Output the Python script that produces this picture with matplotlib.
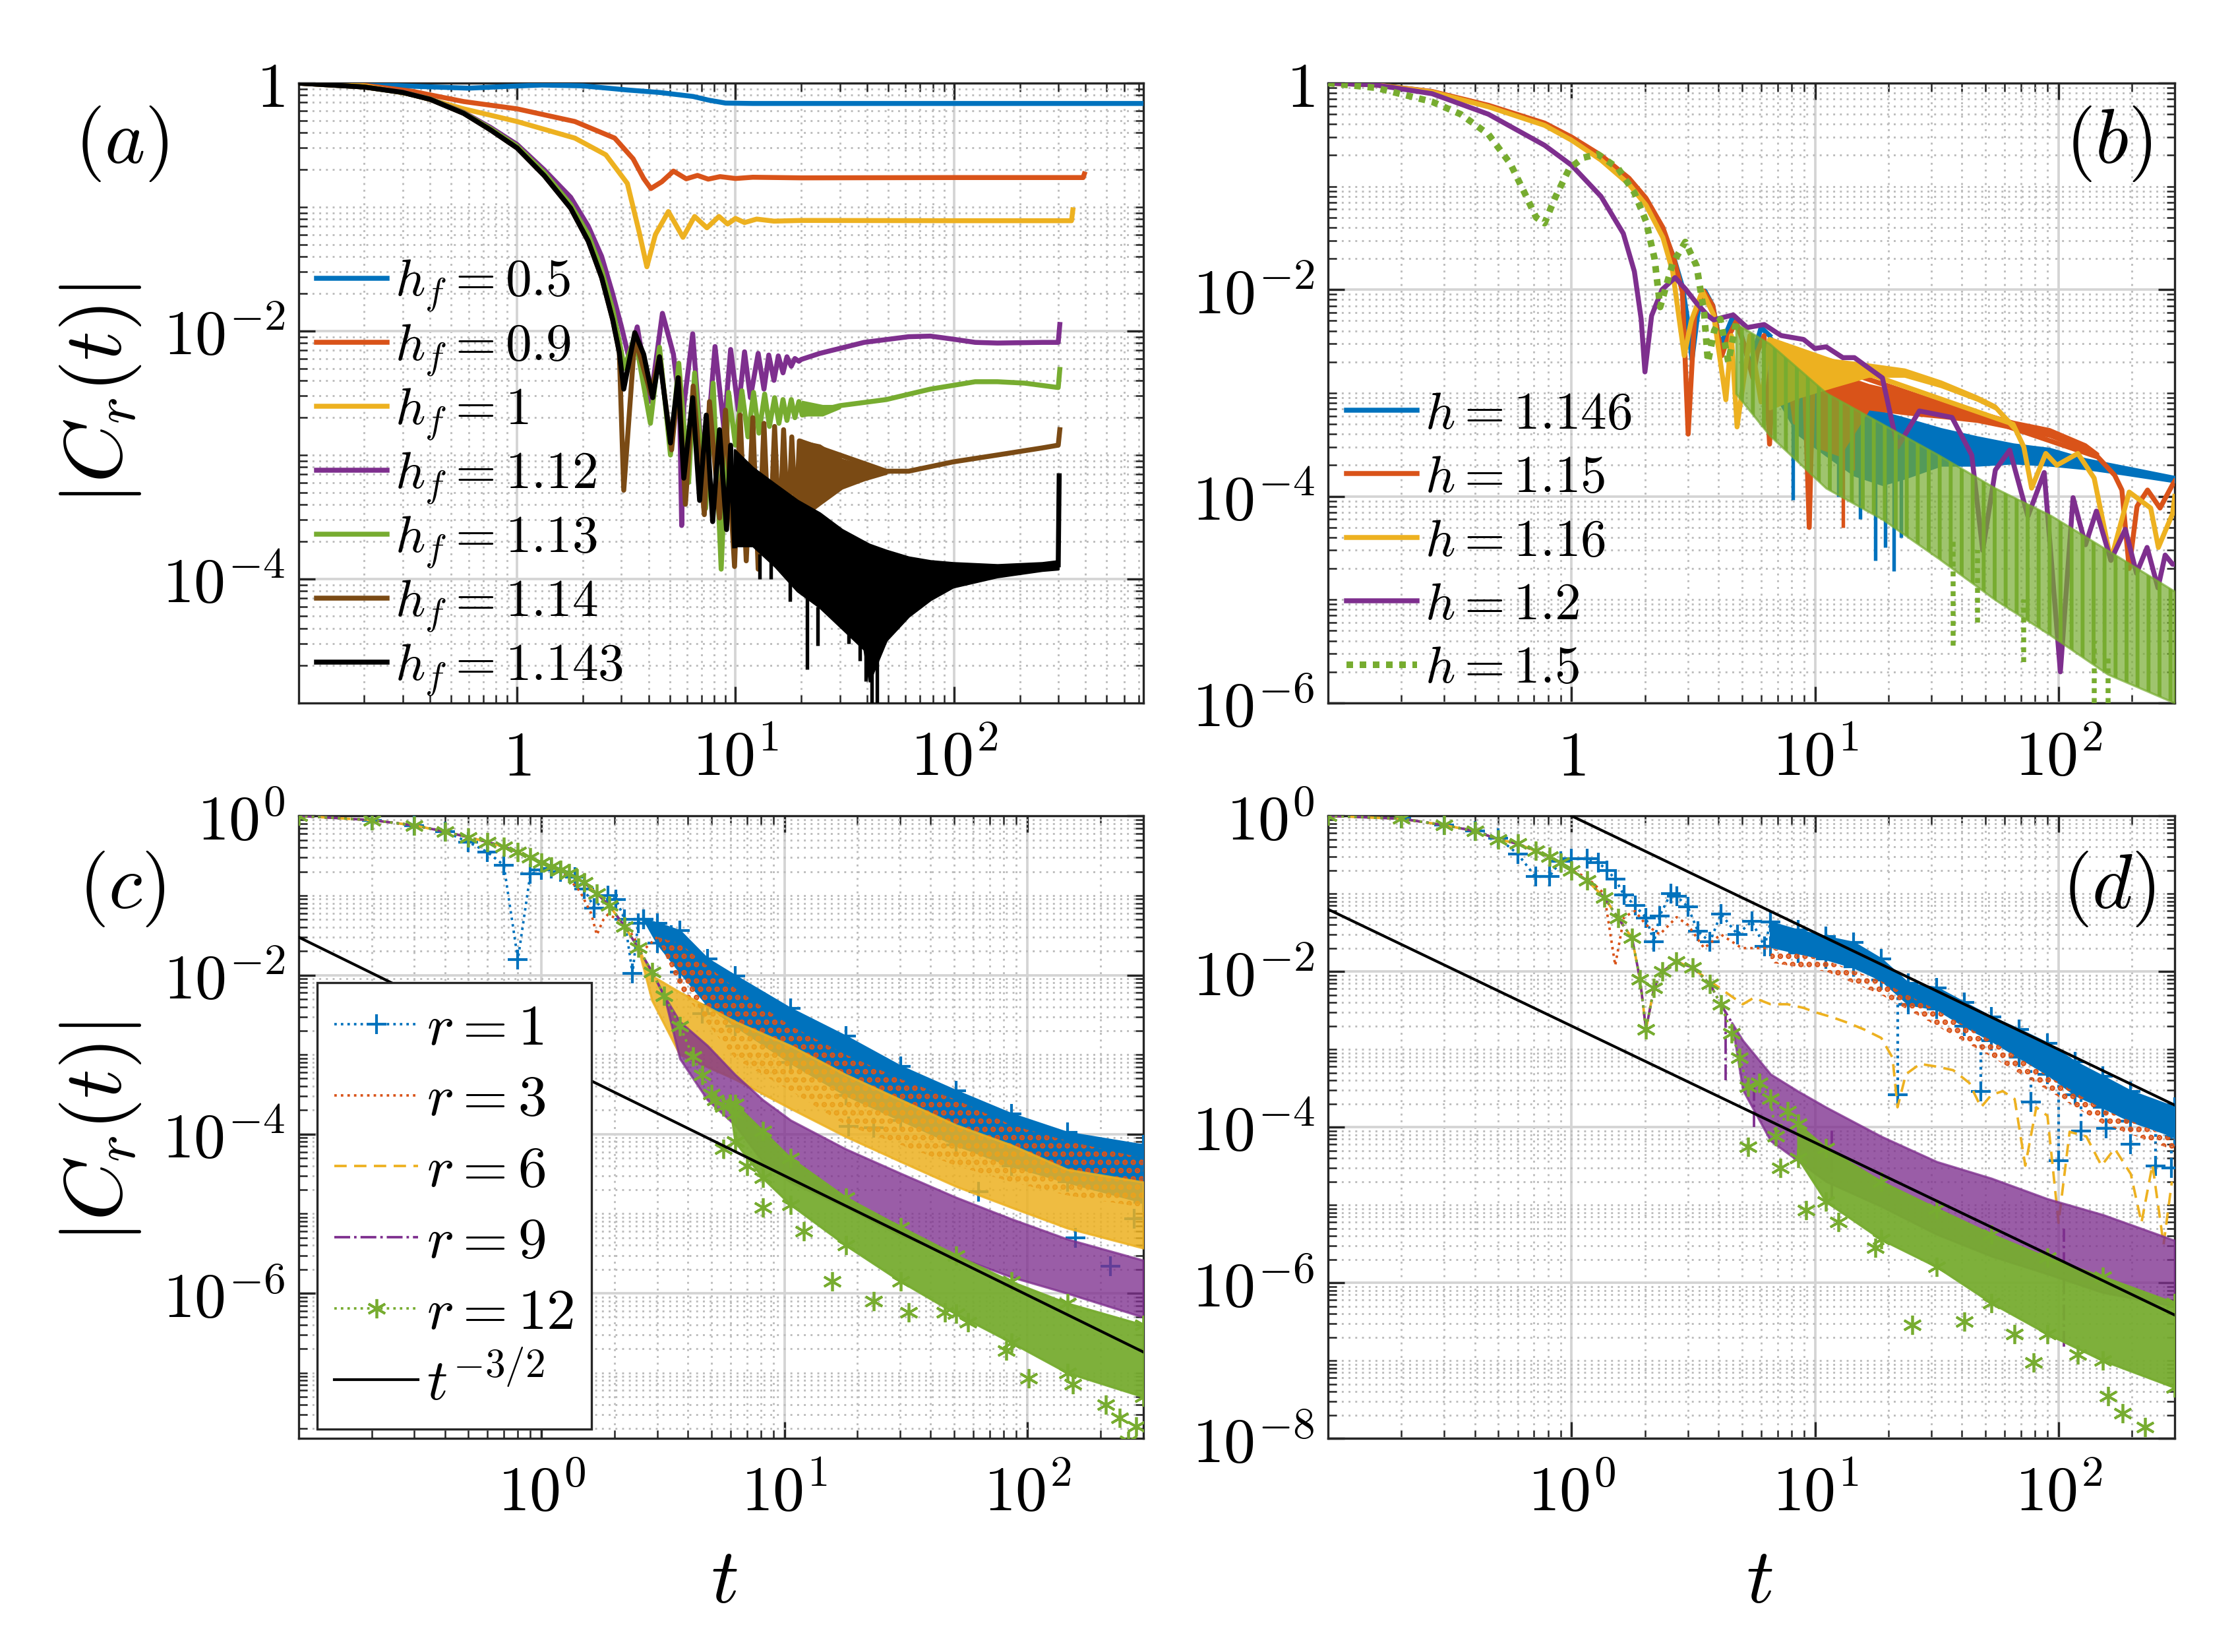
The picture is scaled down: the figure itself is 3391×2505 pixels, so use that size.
import matplotlib

matplotlib.use("Agg")
import matplotlib.pyplot as plt
from matplotlib.ticker import FixedLocator, FixedFormatter, LogLocator, NullFormatter

plt.rcParams["mathtext.fontset"] = "cm"
plt.rcParams["font.family"] = ["DejaVu Serif"]
plt.rcParams["hatch.linewidth"] = 1.4

BLUE = "#0072BD"
ORANGE = "#D95319"
YELLOW = "#EDB120"
PURPLE = "#7E2F8E"
GREEN = "#77AC30"
BROWN = "#7A4A14"
BLACK = "#000000"

# ---------------- panel (a): |C_r(t)| for several h_f ----------------
A_T_05 = [0.1, 0.2, 0.35, 0.6, 0.9, 1.3, 2.0, 3.2, 4.5, 6.4, 7.5, 9.0, 12, 50, 200, 735]
A_C_05 = [1.0, 0.98, 0.94, 0.91, 0.94, 0.965, 0.95, 0.88, 0.84, 0.78, 0.73, 0.69, 0.685, 0.685, 0.685, 0.685]

A_T_09 = [0.1, 0.2, 0.33, 0.57, 1.0, 1.84, 2.8, 3.4, 3.8, 4.1, 4.6, 5.2, 5.95, 6.7, 7.5, 8.5, 10, 12, 20, 100, 390, 395]
A_C_09 = [1.0, 0.96, 0.86, 0.71, 0.62, 0.49, 0.36, 0.245, 0.17, 0.141, 0.16, 0.195, 0.169, 0.18, 0.168, 0.176,
          0.17, 0.174, 0.172, 0.173, 0.173, 0.185]

A_T_1 = [0.1, 0.2, 0.33, 0.57, 1.0, 1.84, 2.55, 3.2, 3.63, 3.93, 4.3, 4.93, 5.75, 6.5, 7.4, 8.4, 9.2, 10, 11,
         12.5, 15, 20, 100, 345, 350]
A_C_1 = [1.0, 0.95, 0.81, 0.62, 0.49, 0.36, 0.264, 0.155, 0.062, 0.033, 0.06, 0.092, 0.057, 0.084, 0.068, 0.084,
         0.073, 0.081, 0.075, 0.08, 0.077, 0.078, 0.0776, 0.0776, 0.095]

A_T_112 = [0.1, 0.2, 0.3, 0.4, 0.57, 0.755, 1.0, 1.33, 1.76, 2.12, 2.44, 2.74, 3.0, 3.26, 3.55, 4.08, 4.63, 5.2,
           5.55, 5.67, 5.8, 6.37, 7.16, 8.06, 8.86, 9.5, 10.3, 11.0, 11.7, 12.7, 13.5, 14.2, 15.0, 15.7, 16.5,
           17.2, 18.0, 18.7, 19.5, 20, 24.3, 38.8, 62, 78, 99, 125, 158, 253, 300, 305]
A_C_112 = [1.0, 0.93, 0.845, 0.745, 0.58, 0.44, 0.32, 0.2, 0.12, 0.07, 0.04, 0.02, 0.011, 0.006, 0.0108, 0.0027,
           0.0139, 0.0065, 0.0025, 0.00027, 0.0025, 0.0095, 0.00058, 0.0075, 0.0016, 0.0071, 0.0023, 0.0068,
           0.0029, 0.0066, 0.0034, 0.0064, 0.004, 0.0063, 0.0046, 0.0062, 0.0052, 0.006, 0.0057, 0.0059, 0.0066,
           0.0081, 0.009, 0.0091, 0.0086, 0.0081, 0.008, 0.0081, 0.0081, 0.0113]

A_T_113 = [0.1, 0.2, 0.3, 0.4, 0.57, 0.755, 1.0, 1.33, 1.76, 2.12, 2.44, 2.74, 2.95, 3.1, 3.46, 4.08, 4.49, 5.04,
           5.5, 6.1, 6.5, 7.3, 7.9, 8.6, 9.3, 10.0, 10.7, 11.4, 12.1, 12.8, 13.6, 14.3, 15.1, 15.8, 16.5, 17.2,
           18.0, 18.7, 19.5, 20.2]
A_C_113 = [1.0, 0.93, 0.84, 0.745, 0.575, 0.43, 0.31, 0.19, 0.105, 0.06, 0.031, 0.015, 0.008, 0.005, 0.0091,
           0.0018, 0.0074, 0.001, 0.0055, 0.0006, 0.0046, 0.00037, 0.0038, 0.00012, 0.0032, 0.0012, 0.0033,
           0.0014, 0.0032, 0.0015, 0.0031, 0.0017, 0.0029, 0.0018, 0.0028, 0.0019, 0.0028, 0.002, 0.0027, 0.0021]
A_BT_113 = [20.2, 25, 30]
A_BHI_113 = [0.0027, 0.0025, 0.0025]
A_BLO_113 = [0.0021, 0.0021, 0.0024]
A_T2_113 = [30, 49, 78, 125, 158, 210, 300, 305]
A_C2_113 = [0.0025, 0.0028, 0.0034, 0.0039, 0.0039, 0.0038, 0.0035, 0.0049]

A_T_114 = [0.1, 0.2, 0.3, 0.4, 0.57, 0.755, 1.0, 1.33, 1.76, 2.12, 2.44, 2.74, 2.94, 3.08, 3.46, 4.1, 4.49, 5.1,
           5.5, 5.9, 6.4, 7.2, 7.6, 8.45, 9.0, 9.9, 10.5, 11.2, 12.0, 12.7, 13.5, 14.3, 15.1, 15.9, 16.6, 17.4,
           18.1, 18.9, 19.6]
A_C_114 = [1.0, 0.93, 0.84, 0.74, 0.57, 0.42, 0.3, 0.18, 0.098, 0.053, 0.027, 0.0124, 0.0067, 0.00052, 0.0088,
           0.0031, 0.0062, 0.0011, 0.0042, 0.0004, 0.0036, 0.00033, 0.0027, 0.00031, 0.0023, 0.000126, 0.0021,
           0.00014, 0.002, 0.00012, 0.0018, 0.00015, 0.0017, 0.0002, 0.0016, 0.00024, 0.0014, 0.00028, 0.0013]
A_BT_114 = [19.6, 24.3, 30.7, 38.8, 49]
A_BHI_114 = [0.0013, 0.0012, 0.00092, 0.00082, 0.00076]
A_BLO_114 = [0.0003, 0.0004, 0.00054, 0.00063, 0.00071]
A_T2_114 = [49, 62, 99, 158, 253, 300, 305]
A_C2_114 = [0.00074, 0.00074, 0.00088, 0.001, 0.00114, 0.0012, 0.0016]

A_T_1143 = [0.1, 0.2, 0.3, 0.4, 0.57, 0.755, 1.0, 1.33, 1.76, 2.12, 2.44, 2.74, 2.94, 3.08, 3.46, 3.8, 4.18, 4.49,
            5.04, 5.46, 5.8, 6.37, 6.85, 7.35, 7.86, 8.45, 9.1, 9.5, 9.9]
A_C_1143 = [1.0, 0.93, 0.84, 0.74, 0.57, 0.42, 0.3, 0.18, 0.098, 0.053, 0.027, 0.0124, 0.0067, 0.0034, 0.0097,
            0.0065, 0.0029, 0.0062, 0.00125, 0.0042, 0.00065, 0.0029, 0.00043, 0.0021, 0.00029, 0.0016, 0.00025,
            0.0012, 0.000185]
A_BT_1143 = [9.9, 12, 15.2, 19.2, 24.3, 30.7, 38.8, 41, 49, 62, 78, 99, 158, 253, 300]
A_BHI_1143 = [0.0011, 0.00079, 0.00058, 0.00043, 0.00034, 0.00025, 0.0002, 0.00019, 0.00017, 0.00015, 0.00014,
              0.000135, 0.00013, 0.000135, 0.00014]
A_BLO_1143 = [0.000185, 0.000185, 0.000126, 0.00008, 0.000059, 0.00004, 0.000027, 0.000015, 0.000032, 0.00005,
              0.000068, 0.000086, 0.000104, 0.000117, 0.00012]
A_ST_1143 = [12.9, 14.5, 17.7, 21.3, 23.7, 33, 37, 39.5, 42, 44.5, 58, 68]
A_STOP_1143 = [0.00016, 0.00015, 0.0001, 0.000075, 0.00006, 0.00004, 0.00003, 0.000027, 0.000025, 0.000025,
               0.00005, 0.000065]
A_SBOT_1143 = [0.0001, 0.0001, 0.000066, 0.0000186, 0.000029, 0.00003, 0.000022, 0.000015, 0.00001, 0.00001,
               0.000046, 0.000059]
A_T2_1143 = [300, 303]
A_C2_1143 = [0.00013, 0.00068]

# ---------------- panel (b) ----------------
B_T_1146 = [0.1, 0.157, 0.267, 0.455, 0.774, 1.0, 1.32, 1.72, 2.02, 2.37, 2.63, 2.85, 2.99, 3.12, 3.3, 3.53, 3.8,
            4.08, 4.35, 4.61, 5.0, 5.4, 6.0, 6.5]
B_C_1146 = [1.0, 0.96, 0.825, 0.6, 0.4, 0.29, 0.19, 0.113, 0.073, 0.038, 0.0203, 0.0107, 0.0052, 0.0021, 0.006,
            0.0097, 0.007, 0.0029, 0.004, 0.0056, 0.0035, 0.0018, 0.0043, 0.0036]
B_BT_1146 = [6.5, 8.5, 11.1, 14.5, 18.9, 23.3, 32.9, 46.3, 65.2, 91.8, 129, 182, 300]
B_BHI_1146 = [0.0036, 0.0018, 0.0011, 0.0008, 0.00065, 0.00057, 0.00045, 0.000375, 0.00032, 0.00029, 0.00023,
              0.000196, 0.000155]
B_BLO_1146 = [0.0012, 0.0004, 0.00025, 0.00016, 0.00013, 0.00015, 0.0002, 0.0002, 0.00021, 0.0002, 0.000185,
              0.000165, 0.000138]
B_ST_1146 = [8.1, 12.5, 15.3, 17.7, 19.4, 21.1, 22.6]
B_STOP_1146 = [0.0005, 0.00025, 0.00016, 0.00014, 0.00014, 0.00014, 0.00015]
B_SBOT_1146 = [0.000092, 0.0001, 0.00006, 0.000024, 0.000032, 0.000019, 0.00004]

B_T_115 = [0.1, 0.157, 0.267, 0.455, 0.774, 1.0, 1.32, 1.72, 2.02, 2.37, 2.63, 2.85, 3.01, 3.2, 3.49, 3.8, 4.14,
           4.4, 4.73, 5.1, 5.55, 5.8, 6.17, 6.5, 6.8, 7.25, 7.8, 8.28, 8.6, 8.97, 9.46, 9.8, 10.2]
B_C_115 = [1.0, 0.96, 0.83, 0.61, 0.41, 0.3, 0.2, 0.12, 0.077, 0.04, 0.02, 0.0095, 0.0004, 0.0055, 0.0097, 0.007,
           0.0023, 0.0035, 0.0049, 0.003, 0.0014, 0.0025, 0.0036, 0.00032, 0.0025, 0.003, 0.0015, 0.00052, 0.0016,
           0.0025, 0.00005, 0.0012, 0.002]
B_BT_115 = [10.2, 12.6, 16.6, 23.3, 32.9, 46.3, 65.2, 91.8, 129, 145]
B_BHI_115 = [0.002, 0.0015, 0.0012, 0.001, 0.0008, 0.00067, 0.00053, 0.00045, 0.00032, 0.00026]
B_BLO_115 = [0.0003, 0.00025, 0.0007, 0.00063, 0.00058, 0.00053, 0.00045, 0.00038, 0.00028, 0.00024]
B_ST_115 = [11.5, 13, 14.3]
B_STOP_115 = [0.0004, 0.0005, 0.0006]
B_SBOT_115 = [0.00019, 0.00005, 0.00018]
B_T2_115 = [145, 170, 182, 195, 210, 232, 261, 294, 300]
B_C2_115 = [0.00024, 0.00016, 0.000115, 0.00002, 0.00008, 0.000115, 0.000077, 0.00013, 0.00014]

B_T_116 = [0.1, 0.157, 0.267, 0.455, 0.774, 1.0, 1.32, 1.72, 2.02, 2.37, 2.6, 2.9, 3.1, 3.44, 3.83, 4.3, 4.53,
           4.78, 5.4, 6.0, 6.5]
B_C_116 = [1.0, 0.96, 0.82, 0.59, 0.39, 0.28, 0.18, 0.105, 0.066, 0.032, 0.015, 0.0023, 0.005, 0.0097, 0.0057,
           0.00086, 0.0036, 0.00047, 0.0036, 0.00082, 0.0033]
B_BT_116 = [6.5, 8.4, 11.8, 16.6, 23.3, 32.9, 46.3, 55, 65]
B_BHI_116 = [0.0033, 0.0026, 0.0021, 0.0019, 0.0017, 0.0013, 0.00093, 0.00076, 0.0005]
B_BLO_116 = [0.0007, 0.0009, 0.00115, 0.00145, 0.00145, 0.00115, 0.00085, 0.0007, 0.00045]
B_T2_116 = [65, 72, 77.5, 88.6, 98.4, 120, 140, 164, 195, 239, 257, 294, 300]
B_C2_116 = [0.0005, 0.0003, 0.00012, 0.00026, 0.0002, 0.00026, 0.00015, 0.000024, 0.00011, 0.000077, 0.000032,
            0.000068, 0.0001]

B_T_12 = [0.1, 0.157, 0.267, 0.455, 0.774, 1.0, 1.32, 1.63, 1.81, 1.93, 2.0, 2.13, 2.35, 2.66, 2.93, 3.26, 3.63,
          3.83, 4.2, 4.61, 5.26, 6.18, 7.25, 8.97, 9.97, 11.1, 13.0, 14.5, 18.9, 21.8, 26.8, 36.5, 44, 48.8, 55,
          63, 74.8, 87.3, 101.7, 114.7, 129, 143, 164, 188, 209, 231, 256, 274, 294, 300]
B_C_12 = [1.0, 0.96, 0.79, 0.5, 0.25, 0.16, 0.08, 0.035, 0.015, 0.0052, 0.0016, 0.0056, 0.01, 0.0131, 0.0102,
          0.0074, 0.0056, 0.0051, 0.0054, 0.0057, 0.0043, 0.0046, 0.0036, 0.0033, 0.0027, 0.0028, 0.0022, 0.0022,
          0.0014, 0.0003, 0.00067, 0.00058, 0.00025, 0.00003, 0.00018, 0.00028, 0.000064, 0.00017, 0.000002,
          0.000097, 0.000034, 0.000072, 0.000024, 0.000048, 0.000018, 0.000032, 0.000013, 0.000027, 0.000022,
          0.000022]

B_T_15 = [0.1, 0.157, 0.267, 0.35, 0.455, 0.56, 0.64, 0.715, 0.774, 0.86, 0.98, 1.12, 1.28, 1.55, 1.81, 2.02,
          2.19, 2.31, 2.6, 2.93, 3.26, 3.5, 3.63, 3.85, 4.08, 4.4, 4.73]
B_C_15 = [1.0, 0.9, 0.66, 0.5, 0.32, 0.166, 0.087, 0.05, 0.044, 0.08, 0.15, 0.19, 0.205, 0.15, 0.087, 0.046,
          0.02, 0.0068, 0.018, 0.029, 0.017, 0.006, 0.002, 0.004, 0.0052, 0.002, 0.0047]
B_BT_15 = [4.73, 6.5, 11.1, 18.9, 32.2, 54.8, 93, 159, 300]
B_BHI_15 = [0.0047, 0.003, 0.001, 0.0005, 0.00025, 0.00012, 0.000065, 0.00003, 0.000012]
B_BLO_15 = [0.00099, 0.00039, 0.00012, 0.00006, 0.000025, 0.00001, 0.0000045, 0.0000019, 0.000001]
B_ST_15 = [37, 46.6, 72, 140, 160]
B_STOP_15 = [0.00004, 0.00003, 0.00001, 0.000004, 0.000003]
B_SBOT_15 = [0.0000036, 0.000006, 0.0000025, 0.000001, 0.000001]

# ---------------- panel (c) ----------------
C_T_1 = [0.1, 0.2, 0.3, 0.4, 0.5, 0.6, 0.7, 0.8, 0.9, 1.0, 1.1, 1.2, 1.37, 1.5, 1.65, 1.88, 2.03, 2.2, 2.37,
         2.5, 2.64]
C_C_1 = [1.0, 0.887, 0.76, 0.635, 0.47, 0.35, 0.24, 0.0157, 0.186, 0.21, 0.22, 0.2, 0.17, 0.12, 0.07, 0.1, 0.089,
         0.05, 0.0104, 0.045, 0.05]
C_BT_1 = [2.64, 3.0, 3.71, 4.82, 6.27, 10.6, 17.9, 30.2, 51, 86, 146, 300]
C_BHI_1 = [0.05, 0.045, 0.036, 0.016, 0.0098, 0.0038, 0.0017, 0.00071, 0.00035, 0.00018, 0.000105, 0.000073]
C_BLO_1 = [0.05, 0.025, 0.011, 0.0042, 0.0023, 0.00079, 0.00031, 0.00015, 0.000073, 0.00004, 0.000025, 0.000014]
C_OT_1 = [3.43, 4.58, 5.95, 9.5, 18.4, 23.3, 63, 158, 220, 275]
C_OC_1 = [0.032, 0.0033, 0.0077, 0.0014, 0.000125, 0.00012, 0.000019, 0.000005, 0.0000022, 0.0000086]

C_T_3 = [0.1, 0.2, 0.3, 0.4, 0.5, 0.6, 0.7, 0.8, 0.9, 1.0, 1.2, 1.44, 1.6, 1.69, 1.8, 1.88, 2.2, 2.6, 3.0]
C_C_3 = [1.0, 0.887, 0.76, 0.635, 0.54, 0.47, 0.41, 0.35, 0.3, 0.26, 0.21, 0.113, 0.06, 0.032, 0.05, 0.058,
         0.045, 0.02, 0.03]
C_BT_3 = [3.0, 3.71, 6.27, 10.6, 17.9, 30.2, 51, 86, 146, 300]
C_BHI_3 = [0.03, 0.025, 0.0068, 0.0023, 0.001, 0.00049, 0.00027, 0.00013, 0.000082, 0.00005]
C_BLO_3 = [0.03, 0.0068, 0.00089, 0.00035, 0.00013, 0.000073, 0.00004, 0.000025, 0.000017, 0.000012]

C_T_12 = [0.1, 0.2, 0.3, 0.4, 0.5, 0.6, 0.7, 0.8, 0.9, 1.0, 1.1, 1.2, 1.3, 1.4, 1.5, 1.69, 1.9, 2.2, 2.5, 2.85,
          3.2, 3.71, 4.2, 4.58, 5.0, 5.2, 5.6, 5.95, 6.27]
C_C_12 = [1.0, 0.887, 0.76, 0.635, 0.54, 0.47, 0.41, 0.35, 0.3, 0.26, 0.23, 0.21, 0.19, 0.165, 0.145, 0.106, 0.075,
          0.041, 0.022, 0.011, 0.0055, 0.0023, 0.00095, 0.00056, 0.00032, 0.00027, 0.00022, 0.00024, 0.00018]
C_BT_12 = [5.95, 6.27, 8.15, 10.6, 17.9, 30.2, 51, 86, 146, 300]
C_BHI_12 = [0.00024, 0.00024, 0.00011, 0.00005, 0.000016, 0.0000068, 0.000003, 0.0000014, 0.00000075, 0.0000004]
C_BLO_12 = [0.00024, 0.00008, 0.000028, 0.000013, 0.000004, 0.0000014, 0.00000055, 0.00000024, 0.0000001,
            0.00000005]
C_OT_12 = [5.6, 7.0, 8.15, 12, 15.7, 23.3, 32.5, 45.8, 56.8, 82, 101, 154, 210, 240, 260, 280]
C_OC_12 = [0.000065, 0.00004, 0.000012, 0.000006, 0.0000014, 0.0000008, 0.00000058, 0.00000058, 0.00000043,
           0.00000019, 0.000000085, 0.000000072, 0.00000004, 0.000000027, 0.000000014, 0.000000021]

C_T_6 = C_T_12[:19]
C_C_6 = C_C_12[:19]
C_BT_6 = [2.5, 2.85, 3.71, 6.27, 10.6, 17.9, 30.2, 51, 86, 146, 300]
C_BHI_6 = [0.022, 0.0098, 0.0061, 0.0026, 0.0013, 0.00056, 0.00027, 0.00013, 0.000073, 0.000036, 0.000025]
C_BLO_6 = [0.022, 0.0048, 0.001, 0.00049, 0.00021, 0.000093, 0.000045, 0.000022, 0.000012, 0.0000066, 0.0000037]

C_T_9 = C_T_12[:21]
C_C_9 = C_C_12[:21]
C_BT_9 = [3.2, 3.71, 4.82, 6.27, 8.15, 10.6, 17.9, 30.2, 51, 86, 146, 300]
C_BHI_9 = [0.0055, 0.0026, 0.0013, 0.00056, 0.00027, 0.00015, 0.000065, 0.000032, 0.000016, 0.0000086, 0.0000048,
           0.0000026]
C_BLO_9 = [0.0055, 0.00089, 0.00027, 0.00013, 0.000045, 0.000025, 0.000012, 0.0000053, 0.0000029, 0.0000016,
           0.000001, 0.0000005]

C_T_REF = [0.1, 300]
C_C_REF = [0.030, 1.83e-7]

# ---------------- panel (d) ----------------
D_T_12 = [0.1, 0.2, 0.3, 0.4, 0.5, 0.6, 0.71, 0.81, 0.9, 1.0, 1.16, 1.36, 1.55, 1.77, 1.91, 2.02, 2.18, 2.36,
          2.69, 3.15, 3.7, 4.1, 4.55, 4.9, 5.3, 5.9, 6.56, 6.9, 7.7, 8.5]
D_C_12 = [1.0, 0.92, 0.76, 0.64, 0.5, 0.44, 0.355, 0.3, 0.25, 0.2, 0.147, 0.09, 0.049, 0.027, 0.0079, 0.0018,
          0.0062, 0.01, 0.0135, 0.0112, 0.0069, 0.0038, 0.0016, 0.00078, 0.00033, 0.00037, 0.00023, 0.000076,
          0.00016, 0.00011]
D_BT_12 = [8.5, 11.1, 18.7, 31.6, 53, 90, 152, 300]
D_BHI_12 = [0.00011, 0.000054, 0.00002, 0.000009, 0.0000042, 0.0000021, 0.0000012, 0.00000055]
D_BLO_12 = [0.00004, 0.000011, 0.0000036, 0.0000016, 0.00000055, 0.00000022, 0.0000001, 0.000000045]
D_OT_12 = [5.3, 7.2, 9.2, 12.5, 17.7, 25, 41, 66, 79, 120, 160, 183, 226]
D_OC_12 = [0.000056, 0.00003, 0.0000085, 0.000006, 0.0000028, 0.00000029, 0.00000032, 0.00000022, 0.000000095,
           0.00000012, 0.000000035, 0.000000021, 0.000000014]

D_T_1 = [0.1, 0.2, 0.3, 0.4, 0.5, 0.6, 0.71, 0.81, 0.9, 1.0, 1.16, 1.29, 1.4, 1.51, 1.64, 1.82, 2.02, 2.18, 2.3,
         2.55, 2.7, 3.0, 3.3, 3.7, 4.1, 4.8, 5.5, 6.2, 6.56]
D_C_1 = [1.0, 0.92, 0.76, 0.64, 0.52, 0.325, 0.166, 0.166, 0.26, 0.28, 0.28, 0.25, 0.2, 0.155, 0.096, 0.071, 0.049,
         0.024, 0.052, 0.1, 0.093, 0.068, 0.033, 0.024, 0.055, 0.03, 0.044, 0.021, 0.043]
D_BT_1 = [6.56, 8.5, 11.1, 14.4, 18.7, 24.2, 31.6, 41, 53, 69, 90, 117, 152, 198, 300]
D_BHI_1 = [0.043, 0.034, 0.028, 0.0236, 0.0145, 0.007, 0.0062, 0.004, 0.0026, 0.0018, 0.0012, 0.00069, 0.00045,
           0.00029, 0.00018]
D_BLO_1 = [0.021, 0.0174, 0.0145, 0.0114, 0.0078, 0.0038, 0.0033, 0.002, 0.0013, 0.00079, 0.00048, 0.00026,
           0.00018, 0.00012, 0.000076]
D_ST_1 = [21.8, 48, 77, 100, 124, 157, 198, 250, 290]
D_STOP_1 = [0.006, 0.0018, 0.0009, 0.0006, 0.0004, 0.00025, 0.00016, 0.00012, 0.0001]
D_SBOT_1 = [0.00026, 0.00029, 0.00021, 0.000037, 0.00009, 0.000097, 0.00006, 0.000032, 0.00003]

D_T_3 = [0.1, 0.2, 0.3, 0.4, 0.5, 0.6, 0.71, 0.81, 0.9, 1.0, 1.16, 1.36, 1.51, 1.64, 1.82, 2.02, 2.3, 2.7, 3.0,
         3.5, 4.1, 5.0, 6.56]
D_C_3 = [1.0, 0.92, 0.76, 0.64, 0.5, 0.44, 0.355, 0.3, 0.25, 0.2, 0.16, 0.1, 0.012, 0.05, 0.06, 0.04, 0.03, 0.05,
         0.04, 0.02, 0.03, 0.02, 0.02]
D_BT_3 = [6.56, 11.1, 18.7, 31.6, 53, 90, 152, 300]
D_BHI_3 = [0.02, 0.014, 0.0075, 0.0032, 0.0013, 0.00046, 0.00017, 0.00007]
D_BLO_3 = [0.013, 0.01, 0.005, 0.002, 0.0008, 0.0003, 0.00011, 0.00005]

D_T_6 = D_T_12[:19] + [3.15, 3.7, 4.3, 5.05, 5.6, 6.56, 7.7, 9.0, 10.0, 11.7, 13.6, 15.9, 18.7, 20.8, 21.8, 23.6,
                       27, 31.6, 36.9, 43, 48, 53, 59, 66, 73, 81, 90, 100, 111, 130, 150, 170, 198, 219, 243,
                       270, 292]
D_C_6 = D_C_12[:19] + [0.011, 0.0075, 0.0054, 0.0038, 0.0046, 0.0038, 0.0038, 0.0034, 0.003, 0.0026, 0.0022,
                       0.0018, 0.0014, 0.00078, 0.00018, 0.00048, 0.00065, 0.0006, 0.00054, 0.00037, 0.00018,
                       0.00026, 0.00029, 0.00023, 0.000032, 0.00018, 0.00014, 0.0000059, 0.000087, 0.000076,
                       0.000032, 0.000053, 0.000025, 0.0000059, 0.000033, 0.0000031, 0.00002]

D_T_9 = D_T_12[:23]
D_C_9 = D_C_12[:22] + [0.0022]
D_BT_9 = [4.55, 5.05, 6.56, 8.5, 11.1, 18.7, 31.6, 53, 90, 152, 300]
D_BHI_9 = [0.0022, 0.0013, 0.00048, 0.00029, 0.00018, 0.000076, 0.000036, 0.000022, 0.000012, 0.0000075,
           0.0000035]
D_BLO_9 = [0.0022, 0.0003, 0.000067, 0.000037, 0.00002, 0.0000096, 0.0000042, 0.0000022, 0.0000013, 0.00000075,
           0.0000005]
D_ST_9 = [4.3, 5.6, 11.7, 105]
D_STOP_9 = [0.003, 0.0005, 0.0001, 0.000005]
D_SBOT_9 = [0.0004, 0.0001, 0.000012, 0.00000015]

D_T_REF1 = [1, 300]
D_C_REF1 = [1.0, 1.92e-4]
D_T_REF2 = [0.1, 300]
D_C_REF2 = [0.063, 3.85e-7]


def style_axes(ax, ylim, yticks, ylabels, xlim, xticks, xlabels):
    ax.set_xscale("log")
    ax.set_yscale("log")
    ax.set_xlim(*xlim)
    ax.set_ylim(*ylim)
    ax.xaxis.set_major_locator(FixedLocator(xticks))
    ax.xaxis.set_major_formatter(FixedFormatter(xlabels))
    ax.yaxis.set_major_locator(FixedLocator(yticks))
    ax.yaxis.set_major_formatter(FixedFormatter(ylabels))
    ax.xaxis.set_minor_locator(LogLocator(base=10, subs=range(1, 10), numticks=30))
    ax.yaxis.set_minor_locator(LogLocator(base=10, subs=range(1, 10), numticks=30))
    ax.xaxis.set_minor_formatter(NullFormatter())
    ax.yaxis.set_minor_formatter(NullFormatter())
    ax.set_axisbelow(True)
    ax.grid(True, which="major", color="#d4d4d4", lw=0.9, ls="-")
    ax.grid(True, which="minor", color="#bdbdbd", lw=0.7, ls=(0, (1, 2.5)))
    ax.tick_params(which="both", direction="in", top=True, right=True, labelsize=23, color="#262626")
    ax.tick_params(which="major", length=6, width=0.8)
    ax.tick_params(which="minor", length=3, width=0.6)
    ax.tick_params(axis="x", pad=9)
    ax.tick_params(axis="y", pad=5)
    for sp in ax.spines.values():
        sp.set_linewidth(0.8)
        sp.set_color("#262626")


def band(ax, t, lo, hi, color, z, alpha=1.0):
    ax.fill_between(t, lo, hi, color=color, alpha=alpha, lw=0.8, zorder=z)


def dotted_band(ax, t, lo, hi, color, z, hatch="...."):
    ax.fill_between(t, lo, hi, facecolor="none", edgecolor=color, hatch=hatch, lw=0, zorder=z)


def spikes(ax, t, top, bot, color, z, lw=1.3, ls="-"):
    ax.vlines(t, bot, top, colors=color, lw=lw, linestyles=ls, zorder=z)


fig = plt.figure(figsize=(3391 / 300, 2505 / 300), dpi=300)
ax_a = fig.add_axes([0.1335, 0.5745, 0.3778, 0.3752])
ax_b = fig.add_axes([0.594, 0.5745, 0.3786, 0.3752])
ax_c = fig.add_axes([0.1335, 0.1293, 0.3778, 0.3768])
ax_d = fig.add_axes([0.594, 0.1293, 0.3786, 0.3768])

LW = 1.8

# ---- (a)
ax = ax_a
ax.plot(A_T_05, A_C_05, color=BLUE, lw=LW, zorder=3, label=r"$h_f=0.5$")
ax.plot(A_T_09, A_C_09, color=ORANGE, lw=LW, zorder=4, label=r"$h_f=0.9$")
ax.plot(A_T_1, A_C_1, color=YELLOW, lw=LW, zorder=5, label=r"$h_f=1$")
ax.plot(A_T_112, A_C_112, color=PURPLE, lw=LW, zorder=6, label=r"$h_f=1.12$")
ax.plot(A_T_113 + A_T2_113, A_C_113 + A_C2_113, color=GREEN, lw=LW, zorder=7, label=r"$h_f=1.13$")
band(ax, A_BT_113, A_BLO_113, A_BHI_113, GREEN, 7)
ax.plot(A_T_114 + A_T2_114, A_C_114 + A_C2_114, color=BROWN, lw=LW, zorder=8, label=r"$h_f=1.14$")
band(ax, A_BT_114, A_BLO_114, A_BHI_114, BROWN, 8)
ax.plot(A_T_1143, A_C_1143, color=BLACK, lw=LW, zorder=9, label=r"$h_f=1.143$")
band(ax, A_BT_1143, A_BLO_1143, A_BHI_1143, BLACK, 9)
spikes(ax, A_ST_1143, A_STOP_1143, A_SBOT_1143, BLACK, 9)
ax.plot(A_T2_1143, A_C2_1143, color=BLACK, lw=LW, zorder=9)
style_axes(ax, (1e-5, 1), [1e-4, 1e-2, 1], [r"$10^{-4}$", r"$10^{-2}$", r"$1$"],
           (0.1, 735), [1, 10, 100], [r"$1$", r"$10^{1}$", r"$10^{2}$"])
ax.legend(loc="lower left", bbox_to_anchor=(0.0, -0.022), frameon=False, fontsize=19,
          handlelength=1.35, handletextpad=0.15, labelspacing=0.13, borderaxespad=0.15, borderpad=0.2)

# ---- (b)
ax = ax_b
ax.plot(B_T_1146, B_C_1146, color=BLUE, lw=LW, zorder=3, label=r"$h=1.146$")
band(ax, B_BT_1146, B_BLO_1146, B_BHI_1146, BLUE, 3)
spikes(ax, B_ST_1146, B_STOP_1146, B_SBOT_1146, BLUE, 3)
ax.plot(B_T_115 + B_T2_115, B_C_115 + B_C2_115, color=ORANGE, lw=LW, zorder=4, label=r"$h=1.15$")
band(ax, B_BT_115, B_BLO_115, B_BHI_115, ORANGE, 4)
spikes(ax, B_ST_115, B_STOP_115, B_SBOT_115, ORANGE, 4)
ax.plot(B_T_116 + B_T2_116, B_C_116 + B_C2_116, color=YELLOW, lw=LW, zorder=5, label=r"$h=1.16$")
band(ax, B_BT_116, B_BLO_116, B_BHI_116, YELLOW, 5)
ax.plot(B_T_12, B_C_12, color=PURPLE, lw=LW, zorder=6, label=r"$h=1.2$")
ax.plot(B_T_15, B_C_15, color=GREEN, lw=2.4, ls=(0, (1, 1)), zorder=7, label=r"$h=1.5$")
band(ax, B_BT_15, B_BLO_15, B_BHI_15, GREEN, 7, alpha=0.7)
dotted_band(ax, B_BT_15, B_BLO_15, B_BHI_15, GREEN, 7, hatch="|||")
spikes(ax, B_ST_15, B_STOP_15, B_SBOT_15, GREEN, 7, lw=1.8, ls=(0, (1, 1)))
style_axes(ax, (1e-6, 1), [1e-6, 1e-4, 1e-2, 1],
           [r"$10^{-6}$", r"$10^{-4}$", r"$10^{-2}$", r"$1$"],
           (0.1, 300), [1, 10, 100], [r"$1$", r"$10^{1}$", r"$10^{2}$"])
ax.legend(loc="lower left", bbox_to_anchor=(0.0, -0.014), frameon=False, fontsize=19,
          handlelength=1.35, handletextpad=0.15, labelspacing=0.26, borderaxespad=0.15, borderpad=0.2)

# ---- (c)
MS = 7
ax = ax_c
ax.plot(C_T_1, C_C_1, color=BLUE, lw=0.9, ls=":", marker="+", ms=MS, mew=1.0, zorder=3, label=r"$r=1$")
band(ax, C_BT_1, C_BLO_1, C_BHI_1, BLUE, 3)
ax.plot(C_BT_1, C_BHI_1, ls="none", marker="+", ms=MS, mew=1.0, color=BLUE, zorder=3)
ax.plot(C_BT_1, C_BLO_1, ls="none", marker="+", ms=MS, mew=1.0, color=BLUE, zorder=3)
ax.plot(C_OT_1, C_OC_1, ls="none", marker="+", ms=MS, mew=1.0, color=BLUE, zorder=3)
ax.plot(C_T_3, C_C_3, color=ORANGE, lw=0.9, ls=":", zorder=4, label=r"$r=3$")
dotted_band(ax, C_BT_3, C_BLO_3, C_BHI_3, ORANGE, 4)
ax.plot(C_T_6, C_C_6, color=YELLOW, lw=0.9, ls=(0, (5, 3)), zorder=5, label=r"$r=6$")
band(ax, C_BT_6, C_BLO_6, C_BHI_6, YELLOW, 5, alpha=0.85)
ax.plot(C_T_9, C_C_9, color=PURPLE, lw=0.9, ls="-.", zorder=6, label=r"$r=9$")
band(ax, C_BT_9, C_BLO_9, C_BHI_9, PURPLE, 6, alpha=0.78)
ax.plot(C_T_12, C_C_12, color=GREEN, lw=0.9, ls=":", marker=(6, 2, 0), ms=MS, mew=0.9, zorder=7,
        label=r"$r=12$")
band(ax, C_BT_12, C_BLO_12, C_BHI_12, GREEN, 7, alpha=0.95)
ax.plot(C_BT_12, C_BLO_12, ls="none", marker=(6, 2, 0), ms=MS, mew=0.9, color=GREEN, zorder=7)
ax.plot(C_BT_12, C_BHI_12, ls="none", marker=(6, 2, 0), ms=MS, mew=0.9, color=GREEN, zorder=7)
ax.plot(C_OT_12, C_OC_12, ls="none", marker=(6, 2, 0), ms=MS, mew=0.9, color=GREEN, zorder=7)
ax.plot(C_T_REF, C_C_REF, color=BLACK, lw=1.0, zorder=10, label=r"$t^{-3/2}$")
style_axes(ax, (1.5e-8, 1), [1e-6, 1e-4, 1e-2, 1],
           [r"$10^{-6}$", r"$10^{-4}$", r"$10^{-2}$", r"$10^{0}$"],
           (0.1, 300), [1, 10, 100], [r"$10^{0}$", r"$10^{1}$", r"$10^{2}$"])
leg = ax.legend(loc="lower left", bbox_to_anchor=(0.022, 0.015), frameon=True, fancybox=False,
                fontsize=21, handlelength=1.45, handletextpad=0.15, labelspacing=0.26,
                borderaxespad=0.0, borderpad=0.3)
leg.get_frame().set_edgecolor("#262626")
leg.get_frame().set_linewidth(0.8)
leg.get_frame().set_alpha(1.0)
leg.set_zorder(20)

# ---- (d)
ax = ax_d
ax.plot(D_T_1, D_C_1, color=BLUE, lw=0.9, ls=":", marker="+", ms=MS, mew=1.0, zorder=3)
band(ax, D_BT_1, D_BLO_1, D_BHI_1, BLUE, 3)
ax.plot(D_BT_1, D_BHI_1, ls="none", marker="+", ms=MS, mew=1.0, color=BLUE, zorder=3)
ax.plot(D_BT_1, D_BLO_1, ls="none", marker="+", ms=MS, mew=1.0, color=BLUE, zorder=3)
spikes(ax, D_ST_1, D_STOP_1, D_SBOT_1, BLUE, 3, lw=1.0, ls=":")
ax.plot(D_ST_1, D_SBOT_1, ls="none", marker="+", ms=MS, mew=1.0, color=BLUE, zorder=3)
ax.plot(D_T_3, D_C_3, color=ORANGE, lw=0.9, ls=":", zorder=4)
dotted_band(ax, D_BT_3, D_BLO_3, D_BHI_3, ORANGE, 4)
ax.plot(D_T_6, D_C_6, color=YELLOW, lw=0.9, ls=(0, (5, 3)), zorder=5)
ax.plot(D_T_9, D_C_9, color=PURPLE, lw=0.9, ls="-.", zorder=6)
band(ax, D_BT_9, D_BLO_9, D_BHI_9, PURPLE, 6, alpha=0.78)
spikes(ax, D_ST_9, D_STOP_9, D_SBOT_9, PURPLE, 6, lw=0.9, ls="-.")
ax.plot(D_T_12, D_C_12, color=GREEN, lw=0.9, ls=":", marker=(6, 2, 0), ms=MS, mew=0.9, zorder=7)
band(ax, D_BT_12, D_BLO_12, D_BHI_12, GREEN, 7, alpha=0.95)
ax.plot(D_BT_12, D_BLO_12, ls="none", marker=(6, 2, 0), ms=MS, mew=0.9, color=GREEN, zorder=7)
ax.plot(D_BT_12, D_BHI_12, ls="none", marker=(6, 2, 0), ms=MS, mew=0.9, color=GREEN, zorder=7)
ax.plot(D_OT_12, D_OC_12, ls="none", marker=(6, 2, 0), ms=MS, mew=0.9, color=GREEN, zorder=7)
ax.plot(D_T_REF1, D_C_REF1, color=BLACK, lw=1.0, zorder=10)
ax.plot(D_T_REF2, D_C_REF2, color=BLACK, lw=1.0, zorder=10)
style_axes(ax, (1e-8, 1), [1e-8, 1e-6, 1e-4, 1e-2, 1],
           [r"$10^{-8}$", r"$10^{-6}$", r"$10^{-4}$", r"$10^{-2}$", r"$10^{0}$"],
           (0.1, 300), [1, 10, 100], [r"$10^{0}$", r"$10^{1}$", r"$10^{2}$"])

# labels
for x, y, s in [(0.0545, 0.913, "(a)"), (0.943, 0.913, "(b)"), (0.0545, 0.462, "(c)"), (0.943, 0.462, "(d)")]:
    fig.text(x, y, "$" + s + "$", fontsize=28, ha="center", va="center")
fig.text(0.045, 0.761, r"$|C_r(t)|$", fontsize=30, rotation=90, ha="center", va="center")
fig.text(0.045, 0.3145, r"$|C_r(t)|$", fontsize=30, rotation=90, ha="center", va="center")
fig.text(0.324, 0.043, r"$t$", fontsize=28, ha="center", va="center")
fig.text(0.787, 0.043, r"$t$", fontsize=28, ha="center", va="center")

fig.savefig("out.png", dpi=300)
